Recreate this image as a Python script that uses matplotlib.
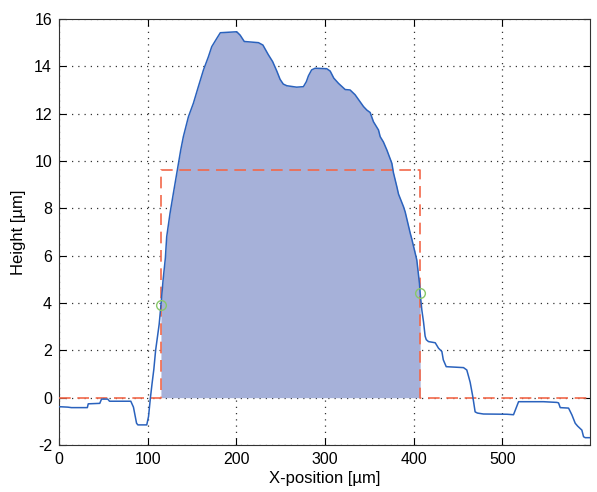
import numpy as np
import matplotlib
matplotlib.use('Agg')
import matplotlib.pyplot as plt

plt.rcParams['font.family'] = ['Liberation Sans', 'DejaVu Sans']
plt.rcParams['axes.unicode_minus'] = False

# Profilo misurato lungo la scansione
x_pos = [0, 10, 14, 32, 33, 46, 48, 55, 57, 81, 84, 87.5, 89, 99, 101, 103,
         105, 107, 109, 113, 115, 117.5, 120, 121.5, 125.3, 129, 133.5, 137.3,
         140.3, 146, 151.6, 157.2, 162.9, 168.5, 172.3, 178, 182, 200.5, 204.3,
         209, 225, 230, 236, 241, 245.7, 249.4, 253, 257, 268, 275.7, 279,
         281.4, 285, 289, 302, 305.9, 310, 315.3, 322.8, 328.4, 334, 339.7,
         343.5, 347.3, 351, 354.7, 360.4, 362.3, 366, 369.9, 375.5, 377.3,
         381.2, 383, 388.6, 390.5, 396.2, 398, 403.6, 406.6, 407.4, 409.3,
         411.2, 413, 414.3, 416.8, 424.4, 428.1, 431.9, 433.5, 436.8, 456.3,
         460, 462, 463.8, 466.8, 469.4, 472, 478.8, 505.3, 512.7, 515, 518.4,
         546.6, 561.6, 563.5, 565.4, 574.8, 578.6, 582.3, 585, 589.8, 591.7,
         593.6, 599]
height = [-0.38, -0.40, -0.42, -0.42, -0.26, -0.24, -0.06, -0.06, -0.15, -0.15,
          -0.40, -1.08, -1.15, -1.15, -0.80, -0.05, 0.60, 1.20, 2.0, 3.1, 3.9,
          5.0, 5.9, 6.8, 7.8, 8.63, 9.62, 10.46, 11.03, 11.87, 12.44, 13.14,
          13.84, 14.4, 14.83, 15.18, 15.42, 15.46, 15.32, 15.05, 15.0, 14.9,
          14.5, 14.2, 13.8, 13.45, 13.25, 13.18, 13.12, 13.14, 13.35, 13.6,
          13.85, 13.92, 13.9, 13.8, 13.5, 13.28, 13.02, 13.0, 12.8, 12.5, 12.3,
          12.15, 12.05, 11.66, 11.31, 11.03, 10.8, 10.46, 9.9, 9.5, 8.9, 8.6,
          8.07, 7.85, 6.95, 6.7, 5.82, 4.83, 4.41, 3.7, 3.2, 2.6, 2.45, 2.37,
          2.32, 2.09, 1.95, 1.6, 1.31, 1.27, 1.17, 0.9, 0.65, 0.04, -0.6, -0.65,
          -0.69, -0.7, -0.72, -0.5, -0.17, -0.17, -0.2, -0.22, -0.42, -0.44,
          -0.73, -1.08, -1.2, -1.37, -1.65, -1.69, -1.69]

# Bordi della struttura e altezza del rettangolo equivalente
x_left = 115.0
x_right = 407.4
rect_height = 9.63

x_pos = np.array(x_pos)
height = np.array(height)

fig = plt.figure(figsize=(5.97, 4.92), dpi=100)
ax = fig.add_axes([0.0988, 0.0955, 0.8895, 0.8659])

# area sotto il profilo tra i due bordi
inside = (x_pos > x_left) & (x_pos < x_right)
xf = np.concatenate([[x_left], x_pos[inside], [x_right]])
yf = np.interp(xf, x_pos, height)
ax.fill_between(xf, 0, yf, color='#a6b1d9', linewidth=0, zorder=2)

ax.plot(x_pos, height, color='#2a62bd', linewidth=1.1, zorder=4)

# rettangolo equivalente + linea di base
rx = [x_pos[0], x_left, x_left, x_right, x_right, x_pos[-1]]
ry = [0, 0, rect_height, rect_height, 0, 0]
ax.plot(rx, ry, color='#f2684a', linestyle=(0, (7, 4)), linewidth=1.2, zorder=3)

# punti di bordo
ax.plot([x_left, x_right], np.interp([x_left, x_right], x_pos, height), 'o',
        markerfacecolor='none', markeredgecolor='#88c868', markersize=7,
        markeredgewidth=1.0, zorder=5)

ax.set_xlim(0, 599)
ax.set_ylim(-2, 16)
ax.set_xticks([0, 100, 200, 300, 400, 500])
ax.set_yticks(np.arange(-2, 17, 2))
ax.grid(True, color='black', linestyle=(0, (1, 4)), linewidth=0.9, alpha=0.8)
ax.set_axisbelow(True)
ax.tick_params(direction='in', length=5, top=True, right=True, labelsize=11.5,
               width=0.8, pad=5)
for sp in ax.spines.values():
    sp.set_linewidth(0.8)
    sp.set_color('#333333')

ax.set_xlabel('X-position [µm]', fontsize=12, labelpad=3)
ax.set_ylabel('Height [µm]', fontsize=12, labelpad=6)

fig.savefig('out.png', dpi=100)
